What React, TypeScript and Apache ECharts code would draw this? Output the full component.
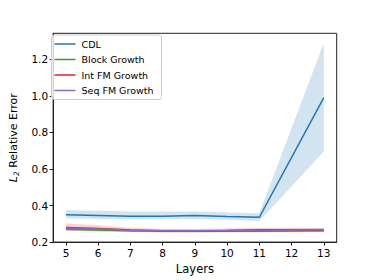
import React, { useEffect, useRef } from "react";
import * as echarts from "echarts";

const layers = [5, 6, 7, 8, 9, 10, 11, 13];
const xTicks = [5, 6, 7, 8, 9, 10, 11, 12, 13];
const yTicks = [0.2, 0.4, 0.6, 0.8, 1.0, 1.2];

const cdlMean = [0.350, 0.346, 0.342, 0.342, 0.345, 0.340, 0.336, 0.990];
const cdlLow = [0.330, 0.327, 0.324, 0.325, 0.327, 0.322, 0.316, 0.695];
const cdlHigh = [0.375, 0.372, 0.368, 0.367, 0.368, 0.362, 0.358, 1.289];

const blockMean = [0.270, 0.266, 0.262, 0.260, 0.259, 0.259, 0.259, 0.262];
const blockLow = [0.263, 0.259, 0.256, 0.254, 0.253, 0.253, 0.253, 0.254];
const blockHigh = [0.278, 0.273, 0.268, 0.267, 0.266, 0.266, 0.267, 0.275];

const intMean = [0.280, 0.275, 0.266, 0.262, 0.262, 0.264, 0.268, 0.266];
const intLow = [0.262, 0.258, 0.255, 0.253, 0.253, 0.255, 0.258, 0.257];
const intHigh = [0.302, 0.292, 0.278, 0.272, 0.272, 0.274, 0.278, 0.276];

const seqMean = [0.276, 0.271, 0.264, 0.262, 0.262, 0.263, 0.264, 0.268];
const seqLow = [0.267, 0.263, 0.257, 0.255, 0.255, 0.256, 0.257, 0.260];
const seqHigh = [0.285, 0.279, 0.271, 0.269, 0.269, 0.270, 0.271, 0.276];

const names = ["CDL", "Block Growth", "Int FM Growth", "Seq FM Growth"];
const colors = ["#1f77b4", "#2ca02c", "#d62728", "#9467bd"];

const groups = [
  { mean: cdlMean, low: cdlLow, high: cdlHigh },
  { mean: blockMean, low: blockLow, high: blockHigh },
  { mean: intMean, low: intLow, high: intHigh },
  { mean: seqMean, low: seqLow, high: seqHigh },
];

export default function App() {
  const ref = useRef<HTMLDivElement>(null);
  useEffect(() => {
    if (!ref.current) return;
    const chart = echarts.init(ref.current, undefined, { renderer: "svg" });
    const font = "DejaVu Sans";
    const series: any[] = [];
    groups.forEach((g, i) => {
      const n = layers.length;
      series.push({
        name: names[i] + " band",
        type: "custom",
        silent: true,
        z: 1,
        data: layers.map((x, k) => [x, g.low[k], g.high[k]]),
        encode: { x: 0, y: [1, 2] },
        renderItem: (params: any, api: any) => {
          if (params.dataIndexInside !== 0) return null;
          const pts: number[][] = [];
          for (let k = 0; k < n; k++) pts.push(api.coord([api.value(0, k), api.value(1, k)]));
          for (let k = n - 1; k >= 0; k--) pts.push(api.coord([api.value(0, k), api.value(2, k)]));
          return {
            type: "polygon",
            shape: { points: pts },
            style: { fill: colors[i], opacity: 0.2 },
          };
        },
      });
    });
    groups.forEach((g, i) => {
      series.push({
        name: names[i],
        type: "line",
        data: layers.map((x, k) => [x, g.mean[k]]),
        lineStyle: { color: colors[i], width: 1.5 },
        itemStyle: { color: colors[i] },
        symbol: "none",
        z: 3,
      });
    });
    chart.setOption({
      animation: false,
      grid: {
        left: 46.7,
        right: 37.3,
        top: 33.3,
        bottom: 31.7,
        show: true,
        borderColor: "#222",
        borderWidth: 1,
        backgroundColor: "transparent",
      },
      legend: {
        data: names,
        orient: "vertical",
        left: 51.5,
        top: 35,
        itemWidth: 21,
        itemHeight: 1.5,
        itemGap: 5.5,
        icon: "rect",
        padding: [4, 8, 4, 3],
        borderColor: "#ccc",
        borderWidth: 1,
        borderRadius: 3,
        backgroundColor: "rgba(255,255,255,0.8)",
        textStyle: { fontFamily: font, fontSize: 9.5, color: "#000", padding: [0, 0, 0, 1] },
      },
      xAxis: {
        type: "value",
        min: 4.6,
        max: 13.4,
        name: "Layers",
        nameLocation: "middle",
        nameGap: 19,
        nameTextStyle: { fontFamily: font, fontSize: 11.5, color: "#000" },
        splitLine: { show: false },
        axisLine: { show: true, onZero: false, lineStyle: { color: "#222", width: 1 } },
        axisTick: { show: true, length: 3.5, customValues: xTicks, lineStyle: { color: "#222" } },
        axisLabel: {
          customValues: xTicks,
          fontFamily: font,
          fontSize: 10.5,
          color: "#000",
          margin: 5,
        },
      },
      yAxis: {
        type: "value",
        min: 0.2,
        max: 1.342,
        name: "{i|L}{s|2} Relative Error",
        nameLocation: "middle",
        nameGap: 21,
        nameTextStyle: {
          fontFamily: font,
          fontSize: 11,
          color: "#000",
          rich: {
            i: { fontFamily: font, fontSize: 11, fontStyle: "italic", color: "#000" },
            s: { fontFamily: font, fontSize: 7.5, fontStyle: "italic", color: "#000", verticalAlign: "bottom", padding: [6, 0, 0, 0] },
          },
        },
        splitLine: { show: false },
        axisLine: { show: true, onZero: false, lineStyle: { color: "#222", width: 1 } },
        axisTick: { show: true, length: 3.5, customValues: yTicks, lineStyle: { color: "#222" } },
        axisLabel: {
          customValues: yTicks,
          fontFamily: font,
          fontSize: 10.5,
          color: "#000",
          margin: 5,
          formatter: (v: number) => v.toFixed(1),
        },
      },
      series,
    });
    return () => chart.dispose();
  }, []);
  return (
    <div
      ref={ref}
      style={{ position: "fixed", left: 0, top: 0, width: 374, height: 280, background: "#fff" }}
    />
  );
}
